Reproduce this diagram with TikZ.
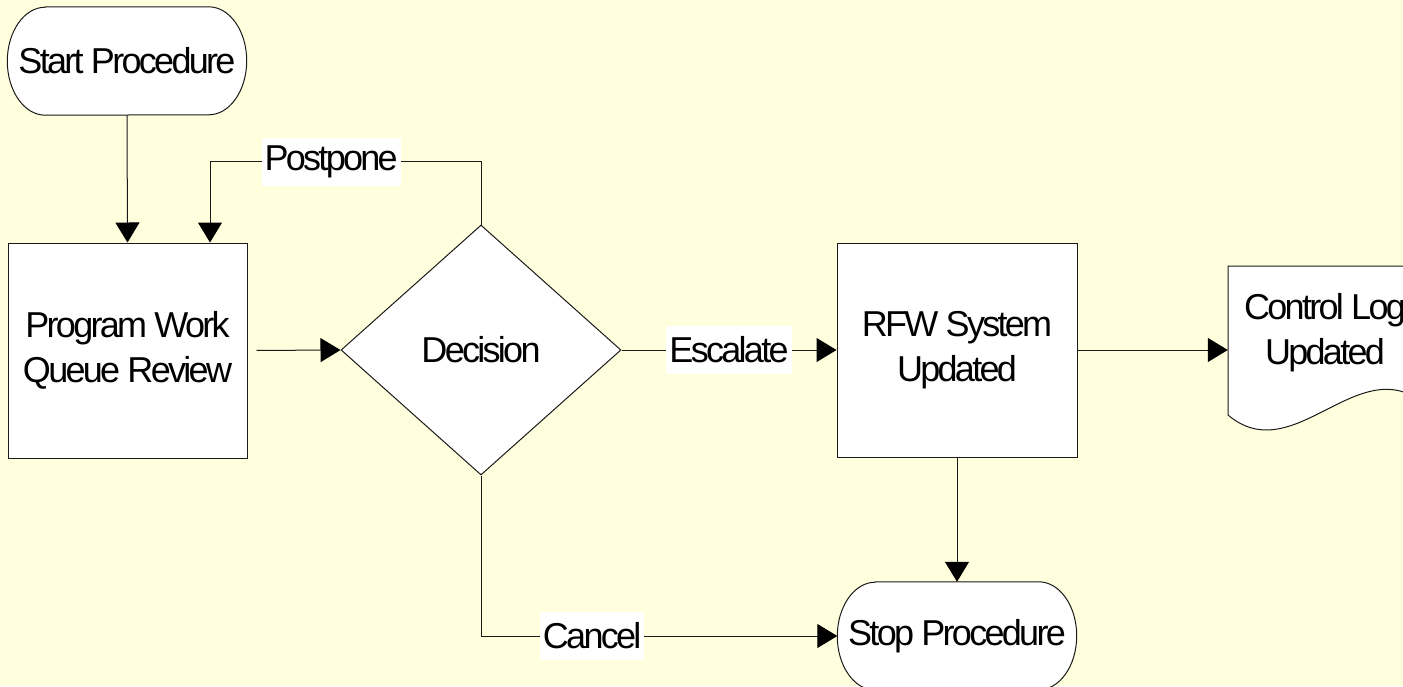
\documentclass[tikz,border=0pt]{standalone}
\usepackage{fontspec}
\setmainfont{Liberation Sans}[LetterSpace=-7.5]
\usetikzlibrary{arrows.meta,shapes.geometric,backgrounds}

\definecolor{paperyellow}{HTML}{FFFFDE}
\definecolor{inkline}{HTML}{1A1A1A}

\pgfdeclarelayer{paper}
\pgfsetlayers{paper,background,main}

% rounded terminal outline drawn round a named node
\newcommand\terminaloutline[1]{%
  \draw[shapeline]
    ([xshift=38pt]#1.north west) -- ([xshift=-38pt]#1.north east)
    arc[start angle=90,end angle=-90,x radius=38pt,y radius=54pt]
    -- ([xshift=38pt]#1.south west)
    arc[start angle=270,end angle=90,x radius=38pt,y radius=54pt] -- cycle;}

\tikzset{
  shapeline/.style={draw=inkline,line width=1pt,fill=white},
  txt/.style={font=\fontsize{36}{45}\selectfont,align=center,text=black},
  procbox/.style={txt,shapeline,rectangle,inner sep=0pt},
  decision/.style={txt,shapeline,diamond,inner sep=0pt,
    minimum width=280pt,minimum height=250pt},
  terminal/.style={txt,rectangle,inner sep=0pt,
    minimum width=239pt,minimum height=108pt},
  docnode/.style={txt,rectangle,inner sep=0pt},
  flow/.style={draw=inkline,line width=1pt,
    -{Triangle[length=20pt,width=24pt,fill=black,color=black]}},
  lbl/.style={txt,fill=white,inner xsep=3pt,inner ysep=0pt,
    minimum height=48pt}
}

\begin{document}
\begin{tikzpicture}[x=1pt,y=-1pt]
  \useasboundingbox (0,0) rectangle (1403,686);
  \clip (0,0) rectangle (1403,686);

  \begin{pgfonlayer}{paper}
    \fill[paperyellow] (0,0) rectangle (1403,686);
  \end{pgfonlayer}

  % nodes
  \node[terminal] (start) at (127,61) {Start Procedure};
  \node[procbox,minimum width=239pt,minimum height=215pt]
    (review) at (127.5,350.5) {Program Work\\Queue Review};
  \node[decision] (decide) at (481,350) {Decision};
  \node[procbox,minimum width=240pt,minimum height=214pt]
    (rfw) at (957,350) {RFW System\\Updated};
  \node[terminal] (stop) at (957,636) {Stop Procedure};
  \node[docnode,minimum width=194pt] (log) at (1325,333) {Control Log\\Updated};

  % outlines of the terminals and the document
  \begin{scope}[on background layer]
    \terminaloutline{start}
    \terminaloutline{stop}
    \draw[shapeline] (1228,266) -- (1422,266) -- (1422,402)
      .. controls (1357,352) and (1293,470) .. (1228,415) -- cycle;
  \end{scope}

  % connectors
  \draw[flow] (start.south) -- (review.north);
  \draw[flow,shorten <=9pt] (review.east) -- (decide.west);
  \draw[flow] (decide.north) -- ++(0,-63)
    -- node[lbl,pos=0.553] {Postpone} ++(-271,0)
    -- ([xshift=82.5pt]review.north);
  \draw[flow] (decide.east) -- node[lbl] {Escalate} (rfw.west);
  \draw[flow] (decide.south) |- node[lbl,pos=0.656] {Cancel} (stop.west);
  \draw[flow] (rfw.east) -- (rfw.east -| log.west);
  \draw[flow] (rfw.south) -- (stop.north);
\end{tikzpicture}
\end{document}
